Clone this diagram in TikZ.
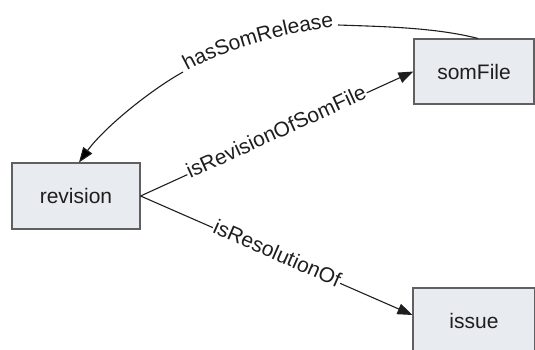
\documentclass[tikz,border=0pt]{standalone}
\usepackage{fontspec}
\setmainfont{Liberation Sans}
\usetikzlibrary{arrows.meta,decorations.text}
\definecolor{boxfill}{RGB}{232,236,241}
\definecolor{boxline}{RGB}{96,96,96}
\definecolor{ink}{RGB}{30,30,30}
\begin{document}
\begin{tikzpicture}[x=1pt,y=1pt,
  classbox/.style={draw=boxline, fill=boxfill, line width=1.1pt, minimum width=#1,
    minimum height=66pt, inner sep=0pt, font=\fontsize{21}{25}\selectfont, text=ink},
  rel/.style={draw=ink, line width=1.1pt},
  relhead/.style={-{Triangle[length=15pt,width=11pt]}},
  rellabel/.style={sloped, fill=white, inner xsep=1pt, inner ysep=0.5pt,
    text height=10pt, text depth=0pt, font=\fontsize{21}{25}\selectfont, text=ink}]
\useasboundingbox (0,0) rectangle (535,350);
\clip (0,0) rectangle (535,350);

% classes
\node[classbox=128pt] (revision) at (76,154) {revision};
\node[classbox=120pt, minimum height=65pt] (somFile) at (474,278.5) {somFile};
\node[classbox=122pt] (issue) at (474,29) {issue};

% straight relations
\draw[rel, relhead] (revision.east) -- node[rellabel] {isRevisionOfSomFile} (somFile.west);
\draw[rel, relhead] (revision.east) -- node[rellabel] {isResolutionOf} ([yshift=6pt]issue.west);

% curved relation, label set along the curve
\coordinate (hsEnd) at (338,325);
\coordinate (hsStart) at (183,278);
\draw[rel] ([xshift=4pt]somFile.north) .. controls (434.5,322.6) and (383,323.4) .. (hsEnd);
\path[decorate, decoration={text along path, text align=center, raise=-1pt, text color=ink,
    text={|\fontsize{21}{25}\selectfont|hasSomRelease}}]
  (hsStart) .. controls (226.3,303) and (288.5,318) .. (hsEnd);
\draw[rel, relhead] (hsStart) .. controls (147.7,258.2) and (103.2,221.1) .. ([xshift=3pt]revision.north);
\end{tikzpicture}
\end{document}
